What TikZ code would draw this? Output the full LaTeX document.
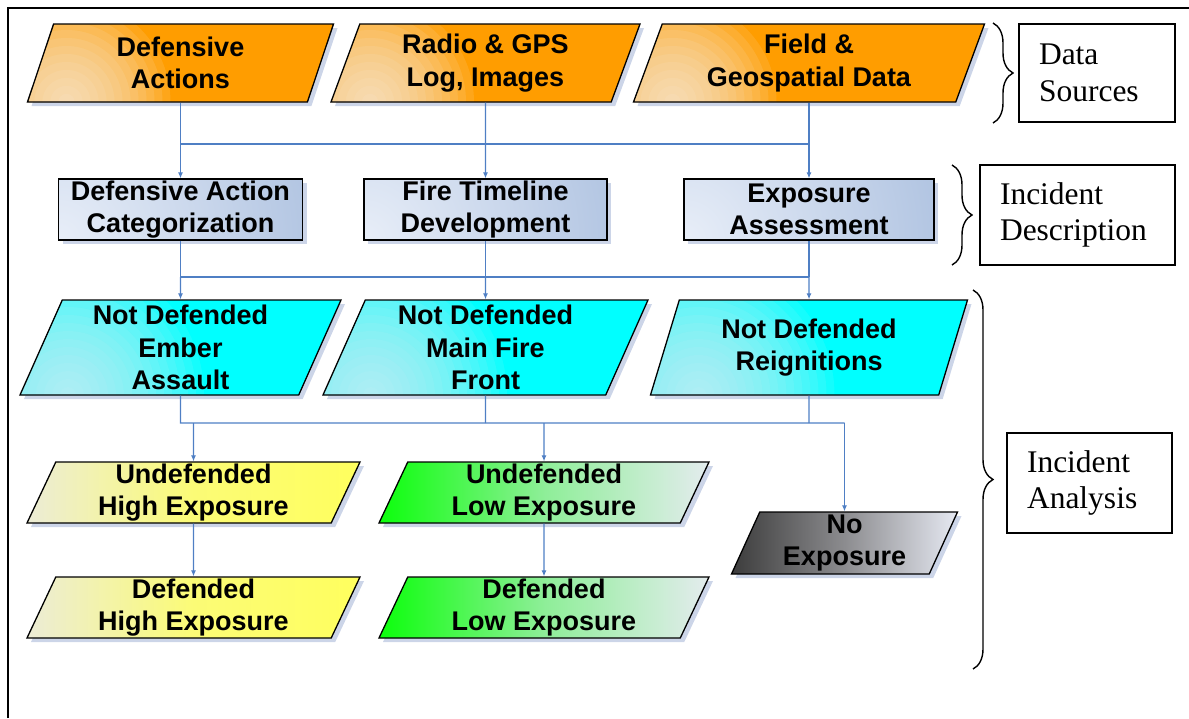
\documentclass[tikz,border=0pt]{standalone}
\usepackage{fontspec}
\setmainfont{Liberation Serif}
\newfontfamily\flowfont{Liberation Sans}
\usetikzlibrary{arrows.meta,shapes.geometric,shadows,decorations.pathreplacing}

\definecolor{orlight}{HTML}{F7ECDD}
\definecolor{ormain}{HTML}{FF9D00}
\definecolor{bglight}{HTML}{E8EEF8}
\definecolor{bgdark}{HTML}{B2C5E2}
\definecolor{cylight}{HTML}{D2EEF4}
\definecolor{cymain}{HTML}{00FFFF}
\definecolor{yelight}{HTML}{ECECD6}
\definecolor{yemain}{HTML}{FFFF5E}
\definecolor{grmain}{HTML}{0CFF0C}
\definecolor{grmid}{HTML}{8EEE98}
\definecolor{grlight}{HTML}{E4ECEE}
\definecolor{dkmain}{HTML}{3C3C3C}
\definecolor{dkmid}{HTML}{8C8C8F}
\definecolor{dklight}{HTML}{E6E9F2}
\definecolor{linkblue}{HTML}{4F7FC4}
\definecolor{shadowcol}{HTML}{CCD5E8}

\tikzset{
	flow/.style={draw=black, line width=1.3pt, inner sep=0pt, align=center,
		font=\flowfont\bfseries\fontsize{27}{32.5}\selectfont,
		drop shadow={shadow xshift=4pt, shadow yshift=-4pt, fill=shadowcol, opacity=1}},
	para/.style={flow, trapezium, trapezium left angle=63.5, trapezium right angle=116.5,
		trapezium stretches body},
	source/.style={para, fill=ormain, minimum height=78pt,
		path picture={\foreach \r in {8,16,...,104}
			\fill[orlight, opacity=0.12] ([xshift=39pt]path picture bounding box.south west) circle (\r);}},
	procbox/.style={flow, rectangle, fill=bgdark, minimum height=61pt,
		path picture={\fill[inner color=bglight, outer color=bgdark]
			(path picture bounding box.south west) circle (255pt);}},
	notdef/.style={para, fill=cymain, minimum height=95pt,
		path picture={\foreach \r in {8,16,...,136}
			\fill[cylight, opacity=0.1] ([xshift=48pt]path picture bounding box.south west) circle (\r);}},
	highexp/.style={para, left color=yelight, right color=yemain, middle color=yemain!80!yelight,
		minimum width=333pt, minimum height=61pt},
	lowexp/.style={para, left color=grmain, right color=grlight, middle color=grmid,
		minimum width=330pt, minimum height=61pt},
	noexpo/.style={para, left color=dkmain, right color=dklight, middle color=dkmid,
		minimum width=226pt, minimum height=62pt},
	link/.style={draw=linkblue, line width=1.1pt},
	arr/.style={link, -{Latex[length=6pt, width=5pt]}},
	brc/.style={draw=black, line width=1.4pt, decorate, decoration={brace, amplitude=20pt}},
	lbl/.style={draw=black, line width=1.6pt, rectangle, inner xsep=20pt, inner ysep=0pt,
		align=left, font=\fontsize{31.5}{36.7}\selectfont}
}

\begin{document}
\begin{tikzpicture}[x=1pt, y=-1pt]
		%%%%% START %%%%%
		\useasboundingbox (0,0) rectangle (1189,718);
		\draw[line width=2pt] (8,718) -- (8,8) -- (1189,8);
		
		\coordinate (bus1) at (0,144);
		\coordinate (bus2) at (0,277);
		\coordinate (bus3) at (0,423);
		
		% data sources
		\node[source, minimum width=306pt] (dact) at (180.5,63) {Defensive\\Actions};
		\node[source, minimum width=309pt] (radio) at (485.5,63) {Radio \& GPS\\Log, Images};
		\node[source, minimum width=351pt] (field) at (809,63) {Field \&\\Geospatial Data};
		
		% incident description
		\node[procbox, minimum width=244pt] (dcat) at (180.5,209.5) {Defensive Action\\Categorization};
		\node[procbox, minimum width=243pt] (ftime) at (485.5,209.5) {Fire Timeline\\Development};
		\node[procbox, minimum width=250pt] (expo) at (809,209.5) {Exposure\\Assessment};
		
		% incident analysis
		\node[notdef, minimum width=321pt] (ember) at (180.5,347.5) {Not Defended\\Ember\\Assault};
		\node[notdef, minimum width=325pt] (mainf) at (485.5,347.5) {Not Defended\\Main Fire\\Front};
		\node[notdef, minimum width=317pt] (reign) at (809,347.5) {Not Defended\\Reignitions};
		
		\node[highexp] (uhigh) at (193.5,492.5) {Undefended\\High Exposure};
		\node[lowexp] (ulow) at (544,492.5) {Undefended\\Low Exposure};
		\node[highexp] (dhigh) at (193.5,607.5) {Defended\\High Exposure};
		\node[lowexp] (dlow) at (544,607.5) {Defended\\Low Exposure};
		\node[noexpo] (noexp) at (844.5,543) {No\\Exposure};
		
		% connectors
		\draw[link] (dact) -- (dact |- bus1) -- (field |- bus1);
		\draw[link] (field) -- (field |- bus1);
		\draw[arr] (dact |- bus1) -- (dcat);
		\draw[arr] (radio) -- (ftime);
		\draw[arr] (field |- bus1) -- (expo);
		
		\draw[link] (dcat) -- (dcat |- bus2) -- (expo |- bus2);
		\draw[link] (ftime) -- (ftime |- bus2);
		\draw[link] (expo) -- (expo |- bus2);
		\draw[arr] (dcat |- bus2) -- (ember);
		\draw[arr] (ftime |- bus2) -- (mainf);
		\draw[arr] (expo |- bus2) -- (reign);
		
		\draw[link] (ember) -- (ember |- bus3) -- (noexp |- bus3);
		\draw[link] (mainf) -- (mainf |- bus3);
		\draw[link] (reign) -- (reign |- bus3);
		\draw[arr] (uhigh |- bus3) -- (uhigh);
		\draw[arr] (ulow |- bus3) -- (ulow);
		\draw[arr] (noexp |- bus3) -- (noexp);
		\draw[arr] (uhigh) -- (dhigh);
		\draw[arr] (ulow) -- (dlow);
		
		% braces and stage labels
		\draw[brc] (993,23) -- (993,123);
		\draw[brc] (952,165) -- (952,265);
		\draw[brc] (973,290) -- (973,669);
		
		\node[lbl, minimum width=156pt, minimum height=98pt, text width=116pt] (dsrc) at (1097,73) {Data\\Sources};
		\node[lbl, minimum width=195pt, minimum height=100pt, text width=155pt] (idesc) at (1077.5,215) {Incident\\Description};
		\node[lbl, minimum width=165pt, minimum height=100pt, text width=125pt] (ianal) at (1089.5,483) {Incident\\Analysis};
		%%%%% END %%%%%
\end{tikzpicture}
\end{document}
